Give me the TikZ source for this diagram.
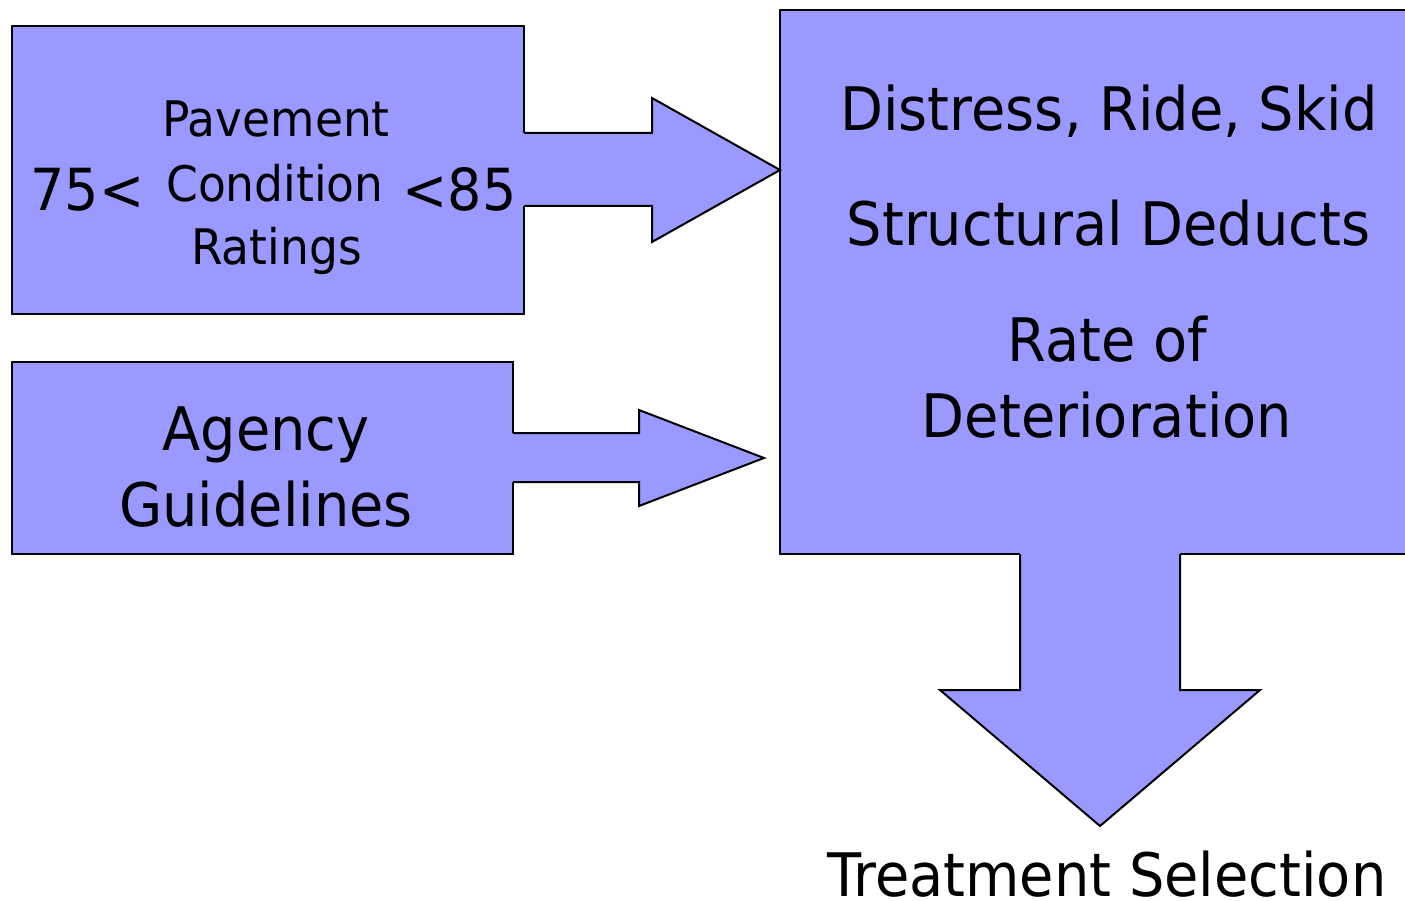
\documentclass[tikz,border=0pt]{standalone}
\usepackage{fontspec}
\setmainfont[FakeStretch=0.93]{DejaVu Sans}
\definecolor{boxfill}{HTML}{9999FF}
\tikzset{
  blockbox/.style={draw=black, line width=2pt, fill=boxfill, inner sep=0pt, outer sep=0pt},
  arrowfill/.style={fill=boxfill},
  arrowline/.style={draw=black, line width=2pt, line join=miter},
  bigtxt/.style={anchor=base, inner sep=0pt, font=\fontsize{60}{72}\selectfont},
  midtxt/.style={anchor=base, inner sep=0pt, font=\fontsize{49}{58}\selectfont},
  numtxt/.style={anchor=base, inner sep=0pt, font=\fontsize{58}{70}\selectfont}
}
\begin{document}
\begin{tikzpicture}[x=1pt, y=-1pt]
\useasboundingbox (0,0) rectangle (1405,901);
\clip (0,0) rectangle (1405,901);
% boxes
\node[blockbox, minimum width=512pt, minimum height=288pt] (pci) at (268,170) {};
\node[blockbox, minimum width=501pt, minimum height=192pt] (agency) at (262.5,458) {};
\node[blockbox, minimum width=656pt, minimum height=544pt] (big) at (1108,282) {};
% arrow 1
\fill[arrowfill] (521,133) -- (652,133) -- (652,98) -- (779,170) -- (652,242) -- (652,206) -- (521,206) -- cycle;
\draw[arrowline] (pci.east |- 0,133) -- (652,133) -- (652,98) -- (big.west |- 0,170) -- (652,242) -- (652,206) -- (pci.east |- 0,206);
% arrow 2
\coordinate (tip2) at (764,458);
\fill[arrowfill] (510,433) -- (639,433) -- (639,410) -- (tip2) -- (639,506) -- (639,482) -- (510,482) -- cycle;
\draw[arrowline] (agency.east |- 0,433) -- (639,433) -- (639,410) -- (tip2) -- (639,506) -- (639,482) -- (agency.east |- 0,482);
% down arrow
\coordinate (tip3) at (1100,826);
\fill[arrowfill] (1020,551) -- (1020,690) -- (940,690) -- (tip3) -- (1260,690) -- (1180,690) -- (1180,551) -- cycle;
\draw[arrowline] (1020,554) -- (1020,690) -- (940,690) -- (tip3) -- (1260,690) -- (1180,690) -- (1180,554);
% texts
\node[midtxt] (t1) at (276,137) {Pavement};
\node[midtxt] (t2) at (275,202) {Condition};
\node[midtxt] (t3) at (276.5,265) {Ratings};
\node[numtxt] (t4) at (87.5,211) {75<};
\node[numtxt] (t5) at (459.5,211) {<85};
\node[bigtxt] (a1) at (266,450) {Agency};
\node[bigtxt] (a2) at (266,526) {Guidelines};
\node[bigtxt] (b1) at (1109,131) {Distress, Ride, Skid};
\node[bigtxt] (b2) at (1108.5,246) {Structural Deducts};
\node[bigtxt] (b3) at (1107.5,361) {Rate of};
\node[bigtxt] (b4) at (1107,437) {Deterioration};
\node[bigtxt, text depth=0pt] (ts) at (1107,896) {Treatment Selection};
\end{tikzpicture}
\end{document}
